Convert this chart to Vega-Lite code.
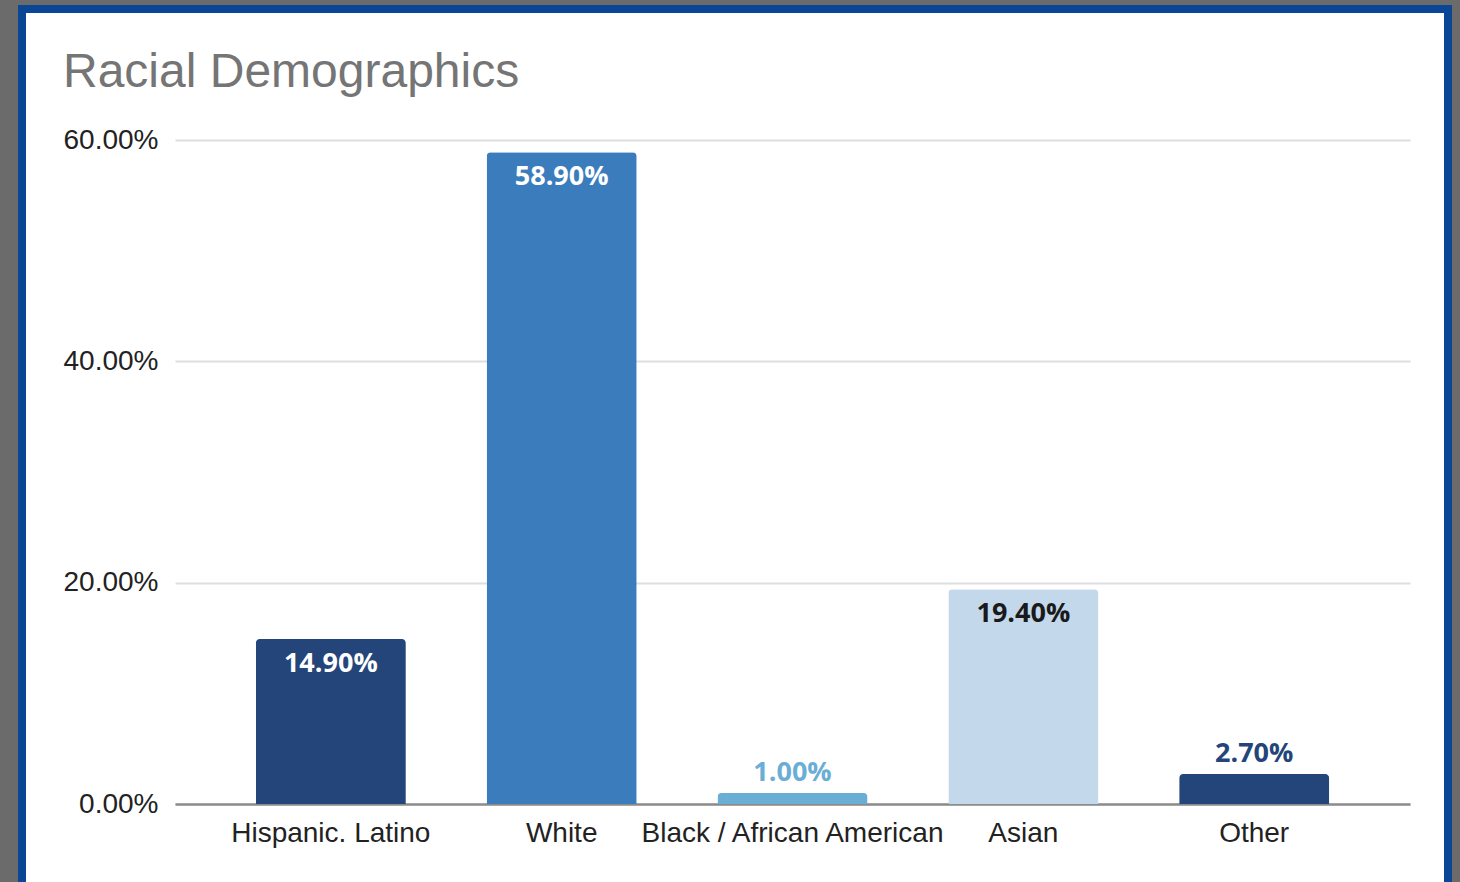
{
  "$schema": "https://vega.github.io/schema/vega-lite/v6.json",
  "width": 1426,
  "height": 873,
  "autosize": {"type": "none"},
  "padding": {"left": 22, "top": 9, "right": 12, "bottom": 0},
  "background": "#6b6b6b",
  "config": {
    "view": {"fill": "white", "stroke": "#0b4595", "strokeWidth": 8, "strokeDash": [2299, 1426, 873]}
  },
  "title": {
    "text": "Racial Demographics",
    "anchor": "start",
    "frame": "group",
    "font": "Liberation Sans",
    "fontSize": 48,
    "fontWeight": "normal",
    "color": "#757575",
    "baseline": "alphabetic",
    "dx": 41,
    "dy": 130
  },
  "data": {
    "values": [
      {"Race": "Hispanic. Latino", "Share": 0.149},
      {"Race": "White", "Share": 0.589},
      {"Race": "Black / African American", "Share": 0.010},
      {"Race": "Asian", "Share": 0.194},
      {"Race": "Other", "Share": 0.027}
    ]
  },
  "encoding": {
    "x": {
      "field": "Race",
      "type": "nominal",
      "sort": null,
      "scale": {"range": [153, 1388], "paddingInner": 0.35, "paddingOuter": 0.35},
      "axis": {
        "title": null,
        "domain": true,
        "domainColor": "#8c8c8c",
        "domainWidth": 2.5,
        "ticks": false,
        "grid": false,
        "labelAngle": 0,
        "labelLimit": 0,
        "labelPadding": 15,
        "labelFont": "Liberation Sans",
        "labelFontSize": 28,
        "labelColor": "#222222",
        "offset": -78
      }
    },
    "y": {
      "field": "Share",
      "type": "quantitative",
      "scale": {"domain": [0, 0.6], "range": [795, 131]},
      "axis": {
        "title": null,
        "values": [0, 0.2, 0.4, 0.6],
        "format": ".2%",
        "domain": false,
        "ticks": false,
        "grid": true,
        "gridColor": "#dedede",
        "gridWidth": 2,
        "labelPadding": 17,
        "labelFont": "Liberation Sans",
        "labelFontSize": 28,
        "labelColor": "#222222",
        "offset": -153
      }
    }
  },
  "layer": [
    {
      "mark": {"type": "bar", "cornerRadiusTopLeft": 4, "cornerRadiusTopRight": 4},
      "encoding": {
        "color": {
          "field": "Race",
          "type": "nominal",
          "scale": {
            "domain": ["Hispanic. Latino", "White", "Black / African American", "Asian", "Other"],
            "range": ["#23457a", "#3b7dbc", "#6aaed6", "#c3d8eb", "#23457a"]
          },
          "legend": null
        }
      }
    },
    {
      "transform": [{"filter": "datum.Share > 0.1"}],
      "mark": {"type": "text", "font": "Open Sans", "fontWeight": "bold", "fontSize": 27, "baseline": "alphabetic", "dy": 33},
      "encoding": {
        "text": {"field": "Share", "type": "quantitative", "format": ".2%"},
        "color": {"condition": {"test": "datum.Race === 'Asian'", "value": "#1a1a1a"}, "value": "#ffffff"}
      }
    },
    {
      "transform": [{"filter": "datum.Share <= 0.1"}],
      "mark": {"type": "text", "font": "Open Sans", "fontWeight": "bold", "fontSize": 27, "baseline": "alphabetic", "dy": -12},
      "encoding": {
        "text": {"field": "Share", "type": "quantitative", "format": ".2%"},
        "color": {"field": "Race", "type": "nominal", "legend": null}
      }
    }
  ]
}
